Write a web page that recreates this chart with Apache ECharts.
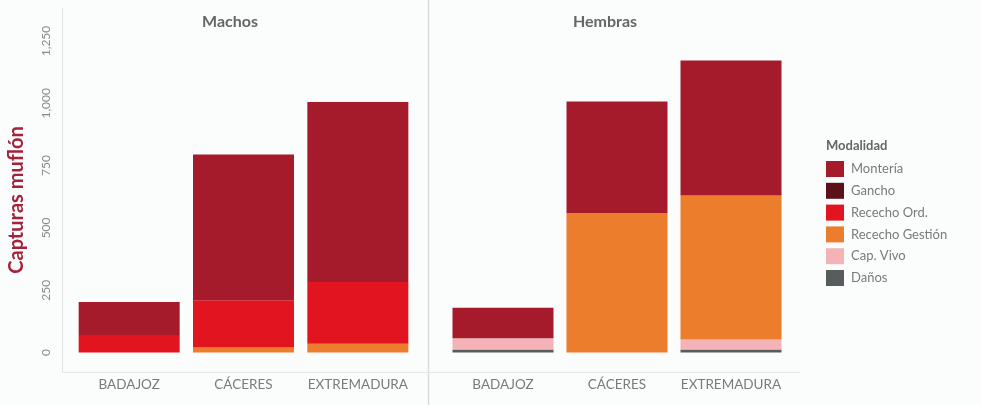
<!DOCTYPE html>
<html>
<head>
<meta charset="utf-8">
<script src="https://cdn.jsdelivr.net/npm/echarts@6/dist/echarts.min.js"></script>
<style>
html,body{margin:0;padding:0;background:#fbfcfc;}
#chart{width:981px;height:405px;}
</style>
</head>
<body>
<div id="chart"></div>
<script>
// ---- data ----
var categories = ['BADAJOZ', 'CÁCERES', 'EXTREMADURA'];
var panels = ['Machos', 'Hembras'];
var modalidades = ['Montería', 'Gancho', 'Rececho Ord.', 'Rececho Gestión', 'Cap. Vivo', 'Daños'];
var colores = ['#a51b2c', '#5a1118', '#e1141f', '#ec7d2d', '#f4b3b7', '#575c5c'];
var yTicks = [0, 250, 500, 750, 1000, 1250];

var machosMonteria       = [133, 585, 722];
var machosGancho         = [0, 0, 0];
var machosRechechoOrd    = [70, 190, 248];
var machosRecechoGestion = [0, 20, 35];
var machosCapVivo        = [0, 0, 0];
var machosDanos          = [0, 0, 0];

var hembrasMonteria       = [123, 447, 542];
var hembrasGancho         = [0, 0, 0];
var hembrasRecechoOrd     = [0, 0, 0];
var hembrasRecechoGestion = [0, 560, 578];
var hembrasCapVivo        = [45, 0, 40];
var hembrasDanos          = [12, 0, 12];

var machos  = [machosMonteria, machosGancho, machosRechechoOrd, machosRecechoGestion, machosCapVivo, machosDanos];
var hembras = [hembrasMonteria, hembrasGancho, hembrasRecechoOrd, hembrasRecechoGestion, hembrasCapVivo, hembrasDanos];

// ---- chart ----
var FONT = 'Lato';
var chart = echarts.init(document.getElementById('chart'), null, {renderer: 'canvas'});

function fmt(v) { return v >= 1000 ? Math.floor(v / 1000) + ',' + String(v % 1000).padStart(3, '0') : String(v); }

var series = [];
// stacking from bottom: Daños ... Montería (reverse of legend order)
for (var i = modalidades.length - 1; i >= 0; i--) {
  [machos, hembras].forEach(function (set, g) {
    series.push({
      name: modalidades[i],
      type: 'bar',
      stack: 's' + g,
      xAxisIndex: g,
      yAxisIndex: g,
      barWidth: 101,
      itemStyle: {color: colores[i]},
      emphasis: {disabled: true},
      data: set[i]
    });
  });
}

var gridTop = 41, gridBottom = 52.5;
var option = {
  backgroundColor: '#fbfcfc',
  animation: false,
  textStyle: {fontFamily: FONT},
  grid: [
    {left: 72, width: 343, top: gridTop, bottom: gridBottom},
    {left: 446, width: 342, top: gridTop, bottom: gridBottom}
  ],
  xAxis: [0, 1].map(function (g) {
    return {
      type: 'category', gridIndex: g, data: categories,
      axisLine: {show: false}, axisTick: {show: false},
      axisLabel: {interval: 0, color: '#7a7a7a', fontSize: 13.5, fontFamily: FONT, margin: 25}
    };
  }),
  yAxis: [0, 1].map(function (g) {
    return {
      type: 'value', gridIndex: g, min: yTicks[0], max: yTicks[yTicks.length - 1], interval: yTicks[1] - yTicks[0],
      splitLine: {show: false}, axisLine: {show: false}, axisTick: {show: false},
      axisLabel: {show: g === 0, rotate: 90, color: '#8a8a8a', fontSize: 12, fontFamily: FONT, margin: 20,
        formatter: function (v) { return fmt(v); }}
    };
  }),
  legend: {
    orient: 'vertical', left: 826, top: 161, padding: 0,
    data: modalidades, icon: 'rect', itemWidth: 18, itemHeight: 16, itemGap: 5.8,
    textStyle: {color: '#7a7a7a', fontSize: 13, fontFamily: FONT, padding: [0, 0, 0, 2]},
    selectedMode: false
  },
  graphic: [
    {type: 'line', shape: {x1: 62.5, y1: 8, x2: 62.5, y2: 372}, style: {stroke: '#e2e4e4', lineWidth: 1}, silent: true},
    {type: 'line', shape: {x1: 428.5, y1: 0, x2: 428.5, y2: 405}, style: {stroke: '#d9dcdc', lineWidth: 1.5}, silent: true},
    {type: 'line', shape: {x1: 62, y1: 372.5, x2: 800, y2: 372.5}, style: {stroke: '#e6e8e8', lineWidth: 1}, silent: true},
    {type: 'text', x: 230, y: 22, style: {text: panels[0], fill: '#666', font: 'bold 16px ' + FONT, textAlign: 'center', textVerticalAlign: 'middle'}},
    {type: 'text', x: 605, y: 22, style: {text: panels[1], fill: '#666', font: 'bold 16px ' + FONT, textAlign: 'center', textVerticalAlign: 'middle'}},
    {type: 'text', x: 17, y: 200, rotation: Math.PI / 2, style: {text: 'Capturas muflón', fill: '#a3233b', font: 'bold 20px ' + FONT, textAlign: 'center', textVerticalAlign: 'middle'}},
    {type: 'text', x: 826, y: 146, style: {text: 'Modalidad', fill: '#666', font: 'bold 13px ' + FONT, textAlign: 'left', textVerticalAlign: 'middle'}}
  ],
  series: series
};
chart.setOption(option);
</script>
</body>
</html>
